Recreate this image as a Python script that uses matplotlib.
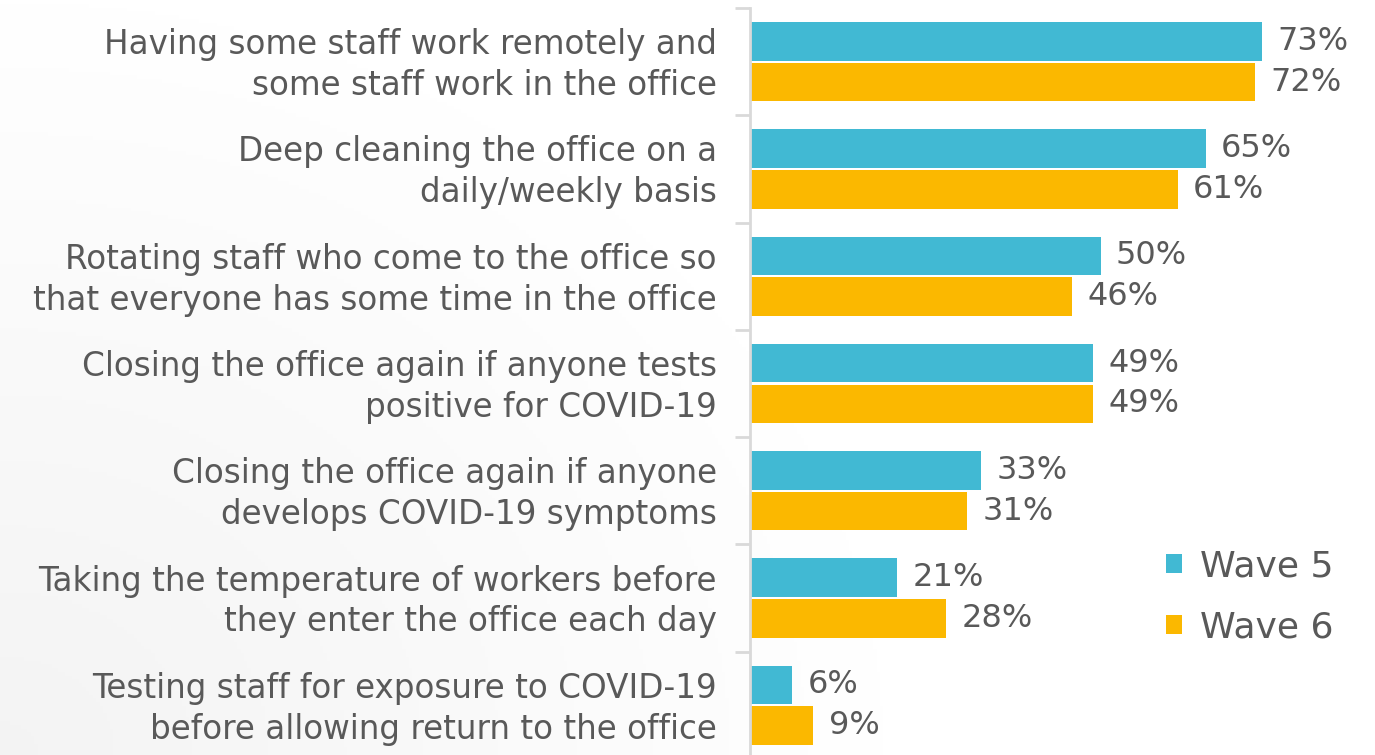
import matplotlib
matplotlib.use("Agg")
import matplotlib.pyplot as plt
import matplotlib.transforms as mtransforms
import numpy as np

categories = [
    "Having some staff work remotely and\nsome staff work in the office",
    "Deep cleaning the office on a\ndaily/weekly basis",
    "Rotating staff who come to the office so\nthat everyone has some time in the office",
    "Closing the office again if anyone tests\npositive for COVID-19",
    "Closing the office again if anyone\ndevelops COVID-19 symptoms",
    "Taking the temperature of workers before\nthey enter the office each day",
    "Testing staff for exposure to COVID-19\nbefore allowing return to the office",
]
wave5 = [73, 65, 50, 49, 33, 21, 6]
wave6 = [72, 61, 46, 49, 31, 28, 9]
series_names = ["Wave 5", "Wave 6"]
colors = ["#41B9D3", "#FBB800"]
text_color = "#595959"
font = ["DejaVu Sans"]

fig = plt.figure(figsize=(13.75, 7.55), dpi=100)

# subtle background gradient (lower-left light gray)
bg = fig.add_axes([0, 0, 1, 1], zorder=-10)
yy, xx = np.mgrid[0:1:200j, 0:1:400j]
d = np.sqrt((xx * 1.4) ** 2 + ((1 - yy) * 0.9) ** 2)
g = np.clip(1 - d / 0.9, 0, 1)
shade = 1 - 0.045 * g
bg.imshow(np.dstack([shade, shade, shade]), extent=[0, 1, 0, 1], aspect="auto", origin="upper")
bg.axis("off")

ax = fig.add_axes([750 / 1375, -4 / 755, 625 / 1375, 751 / 755])
ax.patch.set_alpha(0)
n = len(categories)
y = np.arange(n)
h = 0.36
gap = 0.02
b1 = ax.barh(y - h / 2 - gap / 2, wave5, height=h, color=colors[0], label=series_names[0])
b2 = ax.barh(y + h / 2 + gap / 2, wave6, height=h, color=colors[1], label=series_names[1])
ax.set_xlim(0, 625 / 7.01)
ax.set_ylim(n - 0.5, -0.5)

for bars, vals in ((b1, wave5), (b2, wave6)):
    for rect, v in zip(bars, vals):
        ax.text(v + 2.2, rect.get_y() + rect.get_height() / 2, f"{v}%",
                va="center", ha="left", fontsize=23, color=text_color, family=font)

ax.set_yticks(y)
ax.set_yticklabels(categories, fontsize=23.5, color=text_color, family=font,
                   ha="right", linespacing=1.3)
ax.tick_params(axis="y", length=0, pad=24)
shift = mtransforms.ScaledTranslation(0, 4 / 100, fig.dpi_scale_trans)
for lbl in ax.get_yticklabels():
    lbl.set_transform(lbl.get_transform() + shift)
ax.set_yticks(np.arange(n + 1) - 0.5, minor=True)
ax.tick_params(axis="y", which="minor", length=11, width=2, color="#D9D9D9", direction="out")
ax.set_xticks([])
for s in ["top", "right", "bottom"]:
    ax.spines[s].set_visible(False)
ax.spines["left"].set_color("#D9D9D9")
ax.spines["left"].set_linewidth(2)

leg = ax.legend(loc="lower left", bbox_to_anchor=(1133 / 1375, 78 / 755),
                bbox_transform=fig.transFigure, frameon=False,
                handlelength=0.45, handleheight=0.45, handletextpad=0.5,
                labelspacing=0.75, prop={"family": font, "size": 26})
for t in leg.get_texts():
    t.set_color(text_color)

fig.savefig("out.png", dpi=100)
